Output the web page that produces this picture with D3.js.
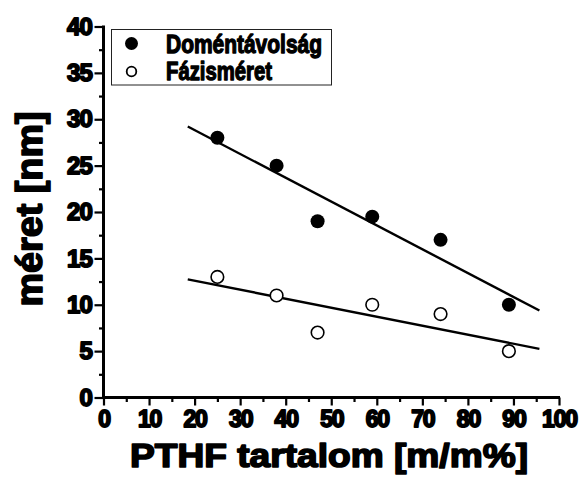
<!DOCTYPE html>
<html>
<head>
<meta charset="utf-8">
<script src="https://cdn.jsdelivr.net/npm/d3@7"></script>
<style>
  html, body { margin: 0; padding: 0; background: #fff; }
  svg { display: block; }
  text { font-family: Arial, "Liberation Sans", Helvetica, sans-serif; font-weight: bold; fill: #000; stroke: #000; paint-order: stroke; stroke-linejoin: round; }
</style>
</head>
<body>
<svg id="chart" width="584" height="480"></svg>
<script>
// ---- data ----
const pthf = [25, 38, 47, 59, 74, 89];
const domentavolsag = [28, 25, 19, 19.5, 17, 10];
const fazismeret = [13, 11, 7, 10, 9, 5];
const seriesNames = ["Doméntávolság", "Fázisméret"];
const xTickValues = [0, 10, 20, 30, 40, 50, 60, 70, 80, 90, 100];
const xMinorValues = [5, 15, 25, 35, 45, 55, 65, 75, 85, 95];
const yTickValues = [0, 5, 10, 15, 20, 25, 30, 35, 40];
const yMinorValues = [2.5, 7.5, 12.5, 17.5, 22.5, 27.5, 32.5, 37.5];
const fitRange = [18.5, 95.7];
const xTitle = "PTHF tartalom [m/m%]";
const yTitle = "méret [nm]";

// ---- layout ----
const svg = d3.select("#chart");
const x = d3.scaleLinear().domain([0, 100]).range([103.5, 559]);
const y = d3.scaleLinear().domain([0, 40]).range([397.5, 26.5]);

function linfit(xs, ys) {
  const mx = d3.mean(xs), my = d3.mean(ys);
  let sxy = 0, sxx = 0;
  xs.forEach((v, i) => { sxy += (v - mx) * (ys[i] - my); sxx += (v - mx) * (v - mx); });
  const b = sxy / sxx;
  return v => my + b * (v - mx);
}

// minor ticks
svg.append("g").attr("transform", `translate(0,${y(0)})`)
  .call(d3.axisBottom(x).tickValues(xMinorValues).tickSize(4.5).tickSizeOuter(0).tickFormat(""))
  .call(g => g.select(".domain").remove())
  .call(g => g.selectAll("line").attr("stroke-width", 2.2));
svg.append("g").attr("transform", `translate(${x(0)},0)`)
  .call(d3.axisLeft(y).tickValues(yMinorValues).tickSize(4.5).tickSizeOuter(0).tickFormat(""))
  .call(g => g.select(".domain").remove())
  .call(g => g.selectAll("line").attr("stroke-width", 2.2));

// major axes
const xAxis = svg.append("g").attr("transform", `translate(0,${y(0)})`)
  .call(d3.axisBottom(x).tickValues(xTickValues).tickSize(8).tickSizeOuter(0).tickPadding(5));
xAxis.select(".domain").attr("stroke-width", 3).attr("d", `M${x(0) - 1.5},0H${x(100) + 1}`);
xAxis.selectAll("line").attr("stroke-width", 2.2);
xAxis.selectAll("text").attr("font-size", 23).attr("letter-spacing", "-1.2px")
  .attr("font-weight", "bold").attr("stroke-width", 1.8).attr("stroke", "#000")
  .attr("font-family", null).attr("dy", "0.72em").attr("y", 12.5);

const yAxis = svg.append("g").attr("transform", `translate(${x(0)},0)`)
  .call(d3.axisLeft(y).tickValues(yTickValues).tickSize(9).tickSizeOuter(0).tickPadding(2.5));
yAxis.select(".domain").attr("stroke-width", 3).attr("d", `M0,${y(0) + 1.5}V${y(40) - 1}`);
yAxis.selectAll("line").attr("stroke-width", 2.2);
yAxis.selectAll("text").attr("font-size", 24).attr("font-family", null).attr("letter-spacing", "-0.8px")
  .attr("font-weight", "bold").attr("stroke-width", 1.8).attr("stroke", "#000");

// axis titles
svg.append("text").attr("x", 130).attr("y", 467)
  .attr("font-size", 33).attr("stroke-width", 1.6)
  .attr("textLength", 398).attr("lengthAdjust", "spacingAndGlyphs")
  .text(xTitle);
svg.append("text").attr("transform", "translate(42,306.5) rotate(-90)")
  .attr("font-size", 36).attr("stroke-width", 1.6)
  .attr("textLength", 195).attr("lengthAdjust", "spacingAndGlyphs")
  .text(yTitle);

// fit lines
const fits = [linfit(pthf, domentavolsag), linfit(pthf, fazismeret)];
fits.forEach(f => {
  svg.append("line")
    .attr("x1", x(fitRange[0])).attr("y1", y(f(fitRange[0])))
    .attr("x2", x(fitRange[1])).attr("y2", y(f(fitRange[1])))
    .attr("stroke", "#000").attr("stroke-width", 2.4);
});

// points
svg.append("g").selectAll("circle").data(pthf).join("circle")
  .attr("cx", d => x(d)).attr("cy", (d, i) => y(domentavolsag[i]))
  .attr("r", 7).attr("fill", "#000");
svg.append("g").selectAll("circle").data(pthf).join("circle")
  .attr("cx", d => x(d)).attr("cy", (d, i) => y(fazismeret[i]))
  .attr("r", 6.3).attr("fill", "#fff").attr("stroke", "#000").attr("stroke-width", 1.6);

// legend
const lg = svg.append("g");
lg.append("rect").attr("x", 111.5).attr("y", 29.5).attr("width", 220).attr("height", 55.5)
  .attr("fill", "#fff").attr("stroke", "#222").attr("stroke-width", 1);
lg.append("circle").attr("cx", 131.5).attr("cy", 43.5).attr("r", 6.5).attr("fill", "#000");
lg.append("circle").attr("cx", 131.5).attr("cy", 71.5).attr("r", 4.8)
  .attr("fill", "#fff").attr("stroke", "#000").attr("stroke-width", 1.8);
lg.append("text").attr("x", 166).attr("y", 53).attr("font-size", 25).attr("stroke-width", 1.3)
  .attr("textLength", 156).attr("lengthAdjust", "spacingAndGlyphs").text(seriesNames[0]);
lg.append("text").attr("x", 166).attr("y", 79.5).attr("font-size", 25).attr("stroke-width", 1.3)
  .attr("textLength", 106).attr("lengthAdjust", "spacingAndGlyphs").text(seriesNames[1]);
</script>
</body>
</html>
